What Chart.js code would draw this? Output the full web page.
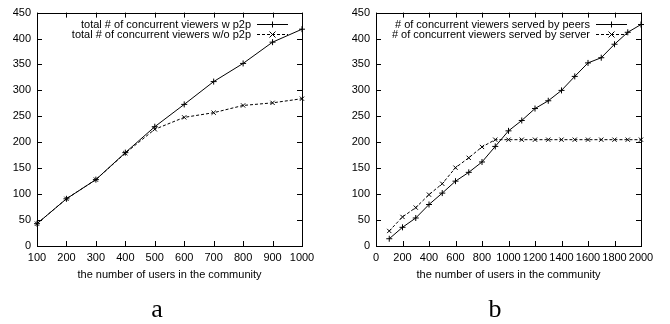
<!DOCTYPE html>
<html><head><meta charset="utf-8">
<script src="https://cdn.jsdelivr.net/npm/chart.js@4/dist/chart.umd.min.js"></script>
<style>
html,body{margin:0;padding:0;background:#fff;width:670px;height:324px;overflow:hidden}
.pane{position:absolute;top:0;width:335px;height:324px}
.cap{position:absolute;width:40px;text-align:center;font-family:'Liberation Serif','Times New Roman',serif;font-size:26px;color:#000;line-height:1}
</style></head><body>
<div class="pane" style="left:0"><canvas id="ca" width="335" height="324"></canvas></div>
<div class="pane" style="left:335px"><canvas id="cb" width="335" height="324"></canvas></div>
<div class="cap" style="left:137px;top:296px">a</div>
<div class="cap" style="left:475px;top:296px">b</div>
<script>
// ---- data ----
const usersA = [100, 200, 300, 400, 500, 600, 700, 800, 900, 1000];
const viewersWithP2P = [43, 91, 128, 180, 230, 273, 317, 352, 393, 418];
const viewersWithoutP2P = [43, 91, 128, 179, 225, 248, 257, 271, 276, 284];

const usersB = [100, 200, 300, 400, 500, 600, 700, 800, 900, 1000, 1100, 1200, 1300, 1400, 1500, 1600, 1700, 1800, 1900, 2000];
const servedByPeers = [14, 36, 54, 80, 102, 125, 142, 162, 192, 222, 242, 265, 280, 300, 327, 353, 363, 389, 412, 427];
const servedByServer = [29, 56, 74, 99, 120, 151, 170, 191, 205, 205, 205, 205, 205, 205, 205, 205, 205, 205, 205, 205];

const labelsA = ['total # of concurrent viewers w p2p', 'total # of concurrent viewers w/o p2p'];
const labelsB = ['# of concurrent viewers served by peers', '# of concurrent viewers served by server'];
const xTitle = 'the number of users in the community';
const yMin = 0, yMax = 450, yStep = 50;

const FONT = "'Liberation Sans', Arial, Helvetica, sans-serif";
const FS = 11;

function mark(ctx, style, x, y, r) {
  ctx.beginPath();
  if (style === 'cross') {
    ctx.moveTo(x - r, y); ctx.lineTo(x + r, y);
    ctx.moveTo(x, y - r); ctx.lineTo(x, y + r);
  } else {
    ctx.moveTo(x - r, y - r); ctx.lineTo(x + r, y + r);
    ctx.moveTo(x - r, y + r); ctx.lineTo(x + r, y - r);
  }
  ctx.stroke();
}

const framePlugin = {
  id: 'frame',
  afterDraw(chart) {
    const ctx = chart.ctx, a = chart.chartArea;
    ctx.save();
    ctx.strokeStyle = '#000';
    ctx.lineWidth = 1;
    ctx.strokeRect(Math.round(a.left) + 0.5, Math.round(a.top) + 0.5, Math.round(a.right - a.left), Math.round(a.bottom - a.top));
    const tl = 5;
    ctx.beginPath();
    chart.scales.x.ticks.forEach(t => {
      const px = Math.round(chart.scales.x.getPixelForValue(t.value)) + 0.5;
      ctx.moveTo(px, a.bottom); ctx.lineTo(px, a.bottom - tl);
      ctx.moveTo(px, a.top); ctx.lineTo(px, a.top + tl);
    });
    chart.scales.y.ticks.forEach(t => {
      const py = Math.round(chart.scales.y.getPixelForValue(t.value)) + 0.5;
      ctx.moveTo(a.left, py); ctx.lineTo(a.left + tl, py);
      ctx.moveTo(a.right, py); ctx.lineTo(a.right - tl, py);
    });
    ctx.stroke();
    // legend
    ctx.font = FS + 'px ' + FONT;
    ctx.fillStyle = '#000';
    ctx.textAlign = 'right';
    ctx.textBaseline = 'middle';
    chart.data.datasets.forEach((ds, i) => {
      const y = Math.round(a.top + 11 + i * 10) + 0.5;
      ctx.fillText(ds.label, a.right - 51, y);
      ctx.setLineDash(ds.borderDash || []);
      ctx.beginPath();
      ctx.moveTo(a.right - 45, y); ctx.lineTo(a.right - 14, y);
      ctx.stroke();
      ctx.setLineDash([]);
      mark(ctx, ds.pointStyle, a.right - 29.5, y, 3);
    });
    ctx.restore();
  }
};

function makeChart(id, xs, s1, s2, labels, xMin, xMax, xStep, yWidth, padRight) {
  const mk = (data, label, style, dash) => ({
    label: label,
    data: xs.map((x, i) => ({x: x, y: data[i]})),
    borderColor: '#000', backgroundColor: '#000', borderWidth: 1,
    borderDash: dash, pointStyle: style, pointRadius: 3, pointBorderWidth: 1,
    pointBorderColor: '#000', tension: 0, clip: false
  });
  return new Chart(document.getElementById(id), {
    type: 'line',
    data: { datasets: [mk(s1, labels[0], 'cross', []), mk(s2, labels[1], 'crossRot', [3, 2])] },
    options: {
      responsive: false, animation: false,
      layout: { padding: { left: 0, right: padRight, top: 12, bottom: 38 } },
      plugins: { legend: { display: false }, tooltip: { enabled: false } },
      scales: {
        x: {
          type: 'linear', min: xMin, max: xMax,
          ticks: { stepSize: xStep, color: '#000', font: { family: FONT, size: FS }, padding: 5, maxRotation: 0, autoSkip: false,
                   callback: v => String(v) },
          grid: { display: false, drawTicks: false }, border: { display: false },
          title: { display: true, text: xTitle, color: '#000', font: { family: FONT, size: FS }, padding: { top: 0, bottom: 4 } },
          afterFit(s) { s.height = 40; }
        },
        y: {
          min: yMin, max: yMax,
          ticks: { stepSize: yStep, color: '#000', font: { family: FONT, size: FS }, padding: 6, callback: v => String(v) },
          grid: { display: false, drawTicks: false }, border: { display: false },
          afterFit(s) { s.width = yWidth; }
        }
      }
    },
    plugins: [framePlugin]
  });
}

makeChart('ca', usersA, viewersWithP2P, viewersWithoutP2P, labelsA, 100, 1000, 100, 37, 33);
makeChart('cb', usersB, servedByPeers, servedByServer, labelsB, 0, 2000, 200, 41, 29);
</script>
</body></html>
